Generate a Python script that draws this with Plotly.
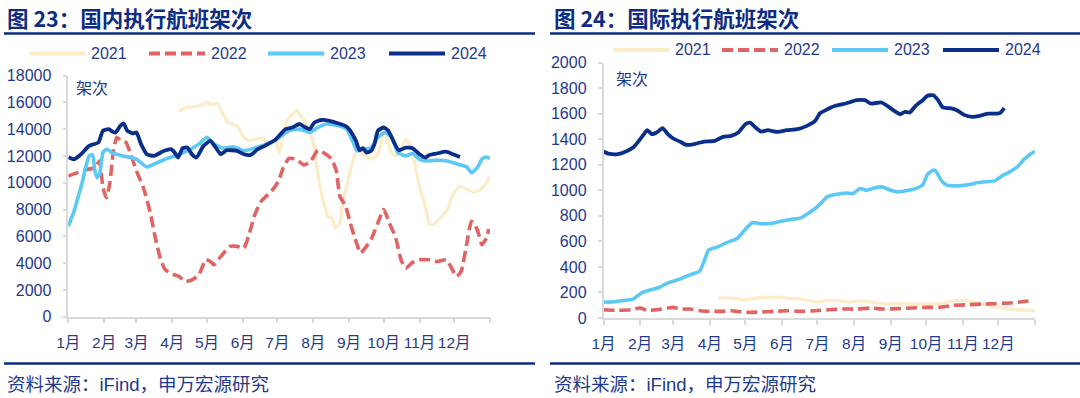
import plotly.graph_objects as go

# ---------------- data (day-of-year, value) ----------------
month_ticks = [0, 31, 59, 90, 120, 151, 181, 212, 243, 273, 304, 334, 365]
month_labels = ["1月", "2月", "3月", "4月", "5月", "6月", "7月", "8月", "9月", "10月", "11月", "12月", ""]
years = ["2021", "2022", "2023", "2024"]

# 国内执行航班架次
dom_2021_days = [96, 102, 110, 117, 120, 125, 129, 134, 138, 146, 152, 156, 161, 167, 173, 179, 183, 186, 189, 194,
                 198, 201, 204, 209, 213, 216, 219, 222, 225, 228, 231, 235, 238, 241, 244, 250, 256, 262, 268, 273,
                 276, 279, 283, 288, 292, 297, 301, 304, 309, 313, 316, 322, 328, 333, 339, 345, 351, 357, 361, 365]
dom_2021_vals = [15320, 15620, 15680, 15880, 16000, 15820, 15920, 15120, 14500, 14250, 13380, 13120, 13250, 13320, 13000,
                 13120, 12250, 13620, 14620, 15120, 15380, 15000, 14680, 13750, 12620, 10620, 9250, 8250, 7380, 7450,
                 6620, 7000, 8750, 9750, 10880, 12500, 12120, 11750, 12120, 13620, 13320, 12380, 12000, 12380, 13250,
                 12620, 10880, 9750, 8250, 6880, 6880, 7380, 8000, 9120, 9750, 9500, 9300, 9500, 9880, 10500]

dom_2022_days = [0, 8, 17, 23, 27, 30, 33, 36, 39, 42, 45, 50, 54, 59, 65, 71, 75, 80, 84, 92, 96, 101, 107, 113, 119,
                 123, 126, 132, 140, 146, 152, 156, 161, 167, 176, 182, 186, 191, 197, 204, 210, 216, 222, 228, 232,
                 235, 240, 244, 249, 253, 258, 262, 268, 273, 279, 283, 288, 292, 298, 304, 312, 319, 327, 331, 336,
                 340, 345, 349, 354, 358, 362, 364]
dom_2022_vals = [10500, 10750, 11000, 11120, 11620, 9620, 8880, 10000, 12380, 13380, 13180, 13000, 12120, 10880, 9620,
                 7750, 6000, 4250, 3500, 3120, 3000, 2620, 2750, 3120, 4250, 4120, 3880, 4500, 5250, 5250, 5120, 6000,
                 7500, 8620, 9380, 10120, 11120, 11820, 11750, 11320, 11620, 12420, 12180, 11750, 10880, 9000, 8250,
                 7000, 5620, 4750, 5250, 5750, 7000, 8000, 6750, 6000, 4250, 3620, 4050, 4250, 4250, 4120, 4250, 3750,
                 3000, 3380, 5500, 7120, 6500, 5380, 5880, 6550]

dom_2023_days = [0, 5, 10, 12, 15, 18, 21, 23, 25, 27, 30, 33, 38, 47, 59, 68, 77, 86, 95, 104, 113, 120, 126, 134, 143,
                 152, 161, 170, 179, 191, 200, 209, 216, 224, 234, 241, 246, 250, 256, 262, 268, 274, 280, 285, 292,
                 298, 304, 312, 319, 328, 337, 345, 349, 354, 358, 361, 365]
dom_2023_vals = [6750, 7880, 9380, 10000, 11120, 12000, 12080, 10880, 10380, 10620, 12250, 12500, 12250, 12000, 11750,
                 11180, 11500, 11820, 12080, 12420, 12880, 13380, 12880, 12580, 12680, 12380, 12580, 12820, 13180,
                 13880, 14000, 13750, 14120, 14380, 14250, 14000, 13120, 12380, 12500, 12580, 13380, 13750, 13380,
                 12250, 12000, 12180, 11750, 11620, 11680, 11620, 11380, 11180, 10750, 11120, 11750, 11920, 11820]

dom_2024_days = [0, 5, 11, 18, 26, 30, 35, 38, 41, 45, 48, 51, 56, 59, 63, 68, 74, 83, 89, 92, 95, 99, 103, 107, 111,
                 117, 123, 128, 132, 137, 146, 152, 158, 164, 170, 179, 188, 194, 200, 204, 209, 213, 219, 226, 234,
                 241, 244, 249, 252, 255, 258, 262, 265, 268, 273, 277, 282, 286, 292, 298, 304, 309, 313, 319, 327,
                 333, 339]
dom_2024_vals = [11900, 11750, 12120, 12750, 13000, 13880, 14000, 13820, 13750, 14250, 14420, 13880, 13680, 13750, 12880,
                 12120, 12000, 12380, 12500, 12250, 11880, 12580, 12620, 12120, 11880, 12750, 13120, 12580, 12120,
                 12420, 12380, 12120, 12080, 12500, 12750, 13180, 14000, 14120, 14380, 14180, 14000, 14500, 14680,
                 14620, 14420, 14180, 13880, 13120, 12420, 12580, 12250, 12380, 12880, 13880, 14120, 13880, 13000,
                 12420, 12620, 12580, 12120, 11880, 12080, 12180, 12320, 12120, 11920]

# 国际执行航班架次
intl_2021_days = [97, 108, 120, 126, 135, 147, 155, 164, 173, 182, 188, 196, 208, 217, 226, 237, 249, 261, 273, 284,
                  296, 308, 320, 328, 337, 349, 365]
intl_2021_vals = [156, 156, 143, 151, 161, 164, 156, 151, 138, 125, 135, 138, 125, 135, 125, 109, 112, 109, 109, 109,
                  135, 135, 109, 91, 78, 65, 57]

intl_2022_days = [0, 12, 23, 31, 37, 45, 54, 59, 65, 73, 82, 91, 100, 108, 117, 123, 132, 144, 155, 167, 179, 191, 202,
                  214, 226, 237, 249, 261, 273, 284, 296, 308, 320, 331, 343, 352, 361]
intl_2022_vals = [65, 60, 65, 78, 60, 65, 78, 83, 70, 70, 57, 52, 52, 57, 47, 44, 47, 52, 57, 52, 57, 65, 70, 70, 78,
                  70, 73, 78, 83, 83, 99, 104, 109, 112, 117, 125, 135]

intl_2023_days = [0, 7, 15, 25, 32, 40, 47, 54, 65, 73, 81, 85, 89, 97, 104, 113, 117, 122, 126, 132, 141, 150, 158,
                  167, 173, 179, 185, 189, 196, 205, 211, 217, 223, 229, 236, 243, 249, 258, 264, 270, 274, 279, 281,
                  286, 290, 299, 308, 317, 325, 331, 337, 344, 350, 355, 361, 365]
intl_2023_vals = [125, 125, 135, 148, 195, 221, 239, 273, 306, 338, 364, 441, 532, 558, 590, 623, 662, 714, 748, 740,
                  740, 758, 771, 784, 818, 857, 909, 948, 966, 979, 974, 1013, 1000, 1018, 1026, 1000, 987, 1000, 1013,
                  1042, 1125, 1157, 1151, 1073, 1042, 1034, 1042, 1060, 1068, 1073, 1112, 1146, 1183, 1235, 1282, 1303]

intl_2024_days = [0, 4, 12, 19, 25, 31, 37, 41, 45, 50, 54, 59, 65, 70, 76, 85, 94, 101, 108, 114, 120, 124, 128, 133,
                  139, 147, 155, 164, 172, 179, 183, 188, 196, 205, 214, 221, 226, 235, 240, 246, 251, 255, 259, 264,
                  270, 274, 279, 283, 287, 293, 299, 305, 312, 318, 325, 333, 336, 339]
intl_2024_vals = [1303, 1287, 1282, 1303, 1334, 1399, 1470, 1439, 1452, 1486, 1444, 1405, 1379, 1355, 1360, 1381, 1386,
                  1418, 1426, 1452, 1517, 1530, 1496, 1460, 1470, 1457, 1470, 1478, 1504, 1543, 1601, 1627, 1661, 1679,
                  1705, 1705, 1679, 1687, 1661, 1621, 1595, 1614, 1608, 1661, 1705, 1739, 1744, 1705, 1648, 1642, 1627,
                  1590, 1574, 1582, 1600, 1600, 1608, 1642]

dom_ticks = list(range(0, 18001, 2000))
intl_ticks = list(range(0, 2001, 200))

# ---------------- styling ----------------
W, H = 1080, 398
NAVY = "#1f3a8c"
TITLE = "#0d2c82"
AXIS = "#d9d9d9"
FONT = "Liberation Sans, Arial, Noto Sans CJK SC, sans-serif"
CJK = "Noto Sans CJK SC, sans-serif"
styles = {
    "2021": dict(color="#fcecc8", width=3.2, dash="solid"),
    "2022": dict(color="#e06464", width=3.6, dash="11px,5px"),
    "2023": dict(color="#5bc8f5", width=3.6, dash="solid"),
    "2024": dict(color="#0a2f8a", width=3.8, dash="solid"),
}


def px(x):
    return x / W


def py(y):
    return 1 - y / H


fig = go.Figure()
dom = {"2021": (dom_2021_days, dom_2021_vals), "2022": (dom_2022_days, dom_2022_vals),
       "2023": (dom_2023_days, dom_2023_vals), "2024": (dom_2024_days, dom_2024_vals)}
intl = {"2021": (intl_2021_days, intl_2021_vals), "2022": (intl_2022_days, intl_2022_vals),
        "2023": (intl_2023_days, intl_2023_vals), "2024": (intl_2024_days, intl_2024_vals)}

for data, xa, ya in [(dom, "x", "y"), (intl, "x2", "y2")]:
    for yr in years:
        d, v = data[yr]
        assert len(d) == len(v), yr
        s = styles[yr]
        fig.add_trace(go.Scatter(x=d, y=v, mode="lines", name=yr, showlegend=False, xaxis=xa, yaxis=ya,
                                 hoverinfo="skip",
                                 line=dict(color=s["color"], width=s["width"], dash=s["dash"],
                                           shape="spline", smoothing=0.5)))

common_x = dict(range=[0, 365], tickmode="array", tickvals=month_ticks, ticktext=month_labels,
                ticks="outside", ticklen=5, tickcolor=AXIS, tickwidth=1.5, showline=True, linecolor=AXIS,
                linewidth=1.5, showgrid=False, zeroline=False, ticklabelstandoff=6, automargin=False,
                tickfont=dict(family=FONT, size=15.5, color=NAVY))
common_y = dict(ticks="outside", ticklen=4, tickcolor=AXIS, tickwidth=1.5, showline=True, linecolor=AXIS,
                linewidth=1.5, showgrid=False, zeroline=False, ticklabelstandoff=8, automargin=False,
                tickformat="d", tickfont=dict(family=FONT, size=16, color=NAVY))

fig.update_layout(
    template="none",
    width=W, height=H, margin=dict(l=0, r=0, t=0, b=0, pad=0, autoexpand=False),
    paper_bgcolor="white", plot_bgcolor="white", showlegend=False,
    xaxis=dict(domain=[px(68.3), px(490)], anchor="y", **common_x),
    yaxis=dict(domain=[py(316.7), py(75.5)], anchor="x", range=[0, 18000], tickvals=dom_ticks, **common_y),
    xaxis2=dict(domain=[px(603.5), px(1035)], anchor="y2", **common_x),
    yaxis2=dict(domain=[py(318), py(62.5)], anchor="x2", range=[0, 2000], tickvals=intl_ticks, **common_y),
)

shapes = []
annotations = []
# titles, rules and source lines
for x0, x1, tx, title in [(4, 535, 5, "图 23：国内执行航班架次"), (550, 1080, 552, "图 24：国际执行航班架次")]:
    shapes.append(dict(type="line", xref="paper", yref="paper", x0=px(x0), x1=px(x1), y0=py(33.5), y1=py(33.5),
                       line=dict(color=TITLE, width=2.6)))
    shapes.append(dict(type="line", xref="paper", yref="paper", x0=px(x0), x1=px(x1), y0=py(363.5), y1=py(363.5),
                       line=dict(color=TITLE, width=2.6)))
    annotations.append(dict(xref="paper", yref="paper", x=px(tx), y=py(18), xanchor="left", yanchor="middle",
                            text="<b>" + title + "</b>", showarrow=False,
                            font=dict(family=CJK, size=21.5, color=TITLE)))
    annotations.append(dict(xref="paper", yref="paper", x=px(tx), y=py(384), xanchor="left", yanchor="middle",
                            text="资料来源：iFind，申万宏源研究", showarrow=False,
                            font=dict(family=FONT, size=18.5, color=NAVY)))

# unit labels
annotations.append(dict(xref="paper", yref="paper", x=px(74), y=py(87), xanchor="left", yanchor="middle",
                        text="架次", showarrow=False, font=dict(family=CJK, size=16, color=NAVY)))
annotations.append(dict(xref="paper", yref="paper", x=px(614), y=py(78), xanchor="left", yanchor="middle",
                        text="架次", showarrow=False, font=dict(family=CJK, size=16, color=NAVY)))

# legends
legend_pos = {
    "left": [29, 149, 268, 389],
    "right": [613, 722, 832, 943],
}
for side, y in [("left", 53.5), ("right", 50)]:
    for yr, x0 in zip(years, legend_pos[side]):
        s = styles[yr]
        shapes.append(dict(type="line", xref="paper", yref="paper", x0=px(x0), x1=px(x0 + 56), y0=py(y), y1=py(y),
                           line=dict(color=s["color"], width=4.2, dash=s["dash"] if yr == "2022" else "solid")))
        annotations.append(dict(xref="paper", yref="paper", x=px(x0 + 60), y=py(y), xanchor="left",
                                yanchor="middle", text=yr, showarrow=False,
                                font=dict(family=FONT, size=16, color=NAVY)))

fig.update_layout(shapes=shapes, annotations=annotations)
# the page's default 8px body margin would shift the fixed-size figure; remove it
fig.write_html("out.html", config={"displayModeBar": False},
               post_script="document.body.style.margin='0';document.body.style.overflow='hidden';")
